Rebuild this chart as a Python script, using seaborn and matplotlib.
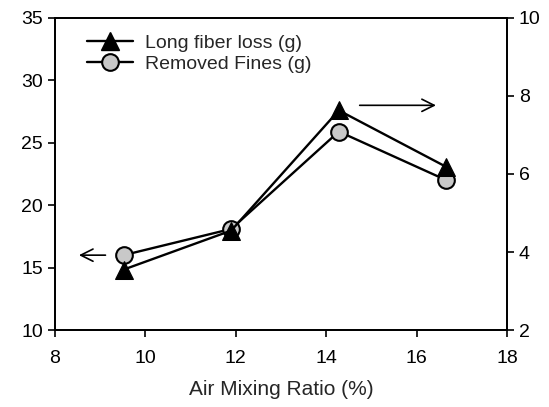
import matplotlib
matplotlib.use("Agg")
import matplotlib.pyplot as plt
import seaborn as sns
import pandas as pd
from matplotlib.lines import Line2D

# Data
air_ratio = [9.52, 11.9, 14.28, 16.66]
long_fiber_loss = [3.55, 4.55, 7.63, 6.18]   # right axis (g)
removed_fines = [16.0, 18.1, 25.9, 22.0]     # left axis (g)
x_ticks = [8, 10, 12, 14, 16, 18]
left_ticks = [10, 15, 20, 25, 30, 35]
right_ticks = [2, 4, 6, 8, 10]

sns.set_style("ticks")
plt.rcParams['font.family'] = ['Liberation Sans', 'DejaVu Sans']

df = pd.DataFrame({"x": air_ratio, "fiber": long_fiber_loss, "fines": removed_fines})

fig = plt.figure(figsize=(5.49, 4.07), dpi=100)
ax = fig.add_axes([0.100, 0.189, 0.8235, 0.767])
ax2 = ax.twinx()

sns.lineplot(data=df, x="x", y="fines", ax=ax, color="black", linewidth=1.7,
             marker="o", markersize=12, markerfacecolor="#c8c8c8",
             markeredgecolor="black", markeredgewidth=1.5, zorder=3)
sns.lineplot(data=df, x="x", y="fiber", ax=ax2, color="black", linewidth=1.7,
             marker="^", markersize=13, markerfacecolor="black",
             markeredgecolor="black", zorder=3)

ax.set_xlim(8, 18)
ax.set_ylim(10, 35)
ax2.set_ylim(2, 10)
ax.set_xticks(x_ticks)
ax.set_yticks(left_ticks)
ax2.set_yticks(right_ticks)
ax.set_xlabel("Air Mixing Ratio (%)", fontsize=15, labelpad=10)
ax.set_ylabel("")
ax2.set_ylabel("")

for a in (ax, ax2):
    for s in a.spines.values():
        s.set_visible(True)
        s.set_linewidth(1.3)
        s.set_color("black")
    a.tick_params(axis="both", labelsize=14, colors="black", direction="out",
                  length=5, width=1.2)
ax.tick_params(axis="x", pad=9)

# Arrows indicating axes
ax.annotate("", xy=(0.047, 0.24), xytext=(0.118, 0.24), xycoords="axes fraction",
            arrowprops=dict(arrowstyle="->", color="black", lw=1.2, mutation_scale=22))
ax.annotate("", xy=(0.849, 0.72), xytext=(0.668, 0.72), xycoords="axes fraction",
            arrowprops=dict(arrowstyle="->", color="black", lw=1.2, mutation_scale=22))

handles = [
    Line2D([], [], color="black", lw=1.7, marker="^", markersize=13,
           markerfacecolor="black", markeredgecolor="black"),
    Line2D([], [], color="black", lw=1.7, marker="o", markersize=12,
           markerfacecolor="#c8c8c8", markeredgecolor="black", markeredgewidth=1.5),
]
ax.legend(handles, ["Long fiber loss (g)", "Removed Fines (g)"], loc="upper left",
          frameon=False, fontsize=14, handlelength=2.4, handletextpad=0.6,
          labelspacing=0.15, borderaxespad=0.3, bbox_to_anchor=(0.04, 0.99))

fig.savefig("out.png", dpi=100)
